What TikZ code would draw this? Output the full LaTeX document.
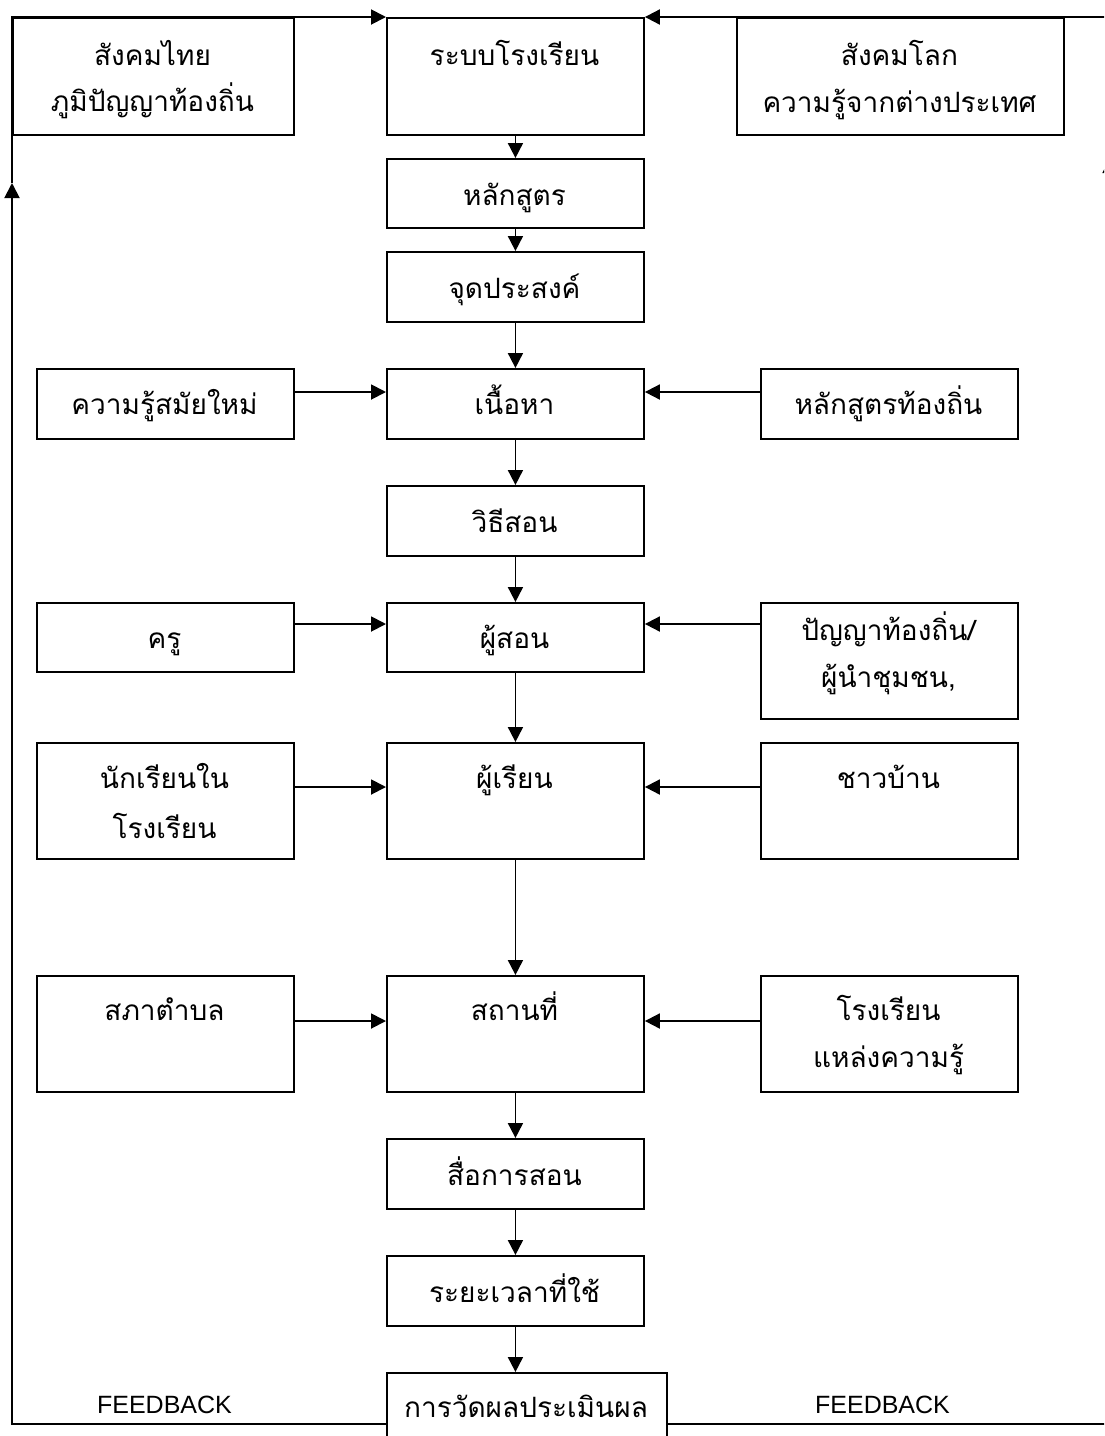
\documentclass[tikz,border=0pt]{standalone}
\usepackage{fontspec}
\setmainfont{Liberation Sans}
\newfontfamily\thaifont[Script=Thai]{Loma}
\usetikzlibrary{arrows.meta,calc}
\begin{document}
\begin{tikzpicture}[x=1pt,y=-1pt,
  box/.style={draw, line width=1.9pt, rectangle, inner sep=0pt, anchor=north west},
  lbl/.style={anchor=base, inner sep=0pt, font=\thaifont\fontsize{28}{34}\selectfont},
  fbk/.style={anchor=base, inner sep=0pt, font=\fontsize{25}{30}\selectfont},
  arr/.style={line width=1.9pt, -{Triangle[length=15pt,width=15pt]}}]
\clip (0,0) rectangle (1104,1436);
% top row
\node[box, minimum width=281pt, minimum height=117pt] (thai) at (12,17) {};
\node[box, minimum width=257pt, minimum height=117pt] (sch) at (386,17) {};
\node[box, minimum width=327pt, minimum height=117pt] (world) at (736,17) {};
\node[lbl] (thaiA) at (152.5,65) {สังคมไทย};
\node[lbl] (thaiB) at (152.5,111) {ภูมิปัญญาท้องถิ่น};
\node[lbl] (schA) at (514.5,65) {ระบบโรงเรียน};
\node[lbl] (worldA) at (899.5,65) {สังคมโลก};
\node[lbl] (worldB) at (899.5,112) {ความรู้จากต่างประเทศ};
% centre column
\node[box, minimum width=257pt, minimum height=69pt] (cur) at (386,158) {};
\node[lbl] (curA) at (514.5,205) {หลักสูตร};
\node[box, minimum width=257pt, minimum height=70pt] (obj) at (386,251) {};
\node[lbl] (objA) at (514.5,298) {จุดประสงค์};
\node[box, minimum width=257pt, minimum height=70pt] (cont) at (386,368) {};
\node[lbl] (contA) at (514.5,414) {เนื้อหา};
\node[box, minimum width=257pt, minimum height=70pt] (meth) at (386,485) {};
\node[lbl] (methA) at (514.5,532) {วิธีสอน};
\node[box, minimum width=257pt, minimum height=69pt] (tch) at (386,602) {};
\node[lbl] (tchA) at (514.5,648) {ผู้สอน};
\node[box, minimum width=257pt, minimum height=116pt] (lrn) at (386,742) {};
\node[lbl] (lrnA) at (514.5,788) {ผู้เรียน};
\node[box, minimum width=257pt, minimum height=116pt] (plc) at (386,975) {};
\node[lbl] (plcA) at (514.5,1020) {สถานที่};
\node[box, minimum width=257pt, minimum height=70pt] (med) at (386,1138) {};
\node[lbl] (medA) at (514.5,1185) {สื่อการสอน};
\node[box, minimum width=257pt, minimum height=70pt] (time) at (386,1255) {};
\node[lbl] (timeA) at (514.5,1302) {ระยะเวลาที่ใช้};
\node[box, minimum width=280pt, minimum height=100pt] (eval) at (386,1372) {};
\node[lbl] (evalA) at (526,1417) {การวัดผลประเมินผล};
% side boxes
\node[box, minimum width=257pt, minimum height=70pt] (mod) at (36,368) {};
\node[lbl] (modA) at (164.5,414) {ความรู้สมัยใหม่};
\node[box, minimum width=257pt, minimum height=70pt] (loc) at (760,368) {};
\node[lbl] (locA) at (888.5,414) {หลักสูตรท้องถิ่น};
\node[box, minimum width=257pt, minimum height=69pt] (kru) at (36,602) {};
\node[lbl] (kruA) at (164.5,648) {ครู};
\node[box, minimum width=257pt, minimum height=116pt] (wis) at (760,602) {};
\node[lbl] (wisA) at (888.5,640) {ปัญญาท้องถิ่น/};
\node[lbl] (wisB) at (888.5,687) {ผู้นำชุมชน,};
\node[box, minimum width=257pt, minimum height=116pt] (stu) at (36,742) {};
\node[lbl] (stuA) at (164.5,788) {นักเรียนใน};
\node[lbl] (stuB) at (164.5,838) {โรงเรียน};
\node[box, minimum width=257pt, minimum height=116pt] (vil) at (760,742) {};
\node[lbl] (vilA) at (888.5,788) {ชาวบ้าน};
\node[box, minimum width=257pt, minimum height=116pt] (tao) at (36,975) {};
\node[lbl] (taoA) at (164.5,1020) {สภาตำบล};
\node[box, minimum width=257pt, minimum height=116pt] (src) at (760,975) {};
\node[lbl] (srcA) at (888.5,1020) {โรงเรียน};
\node[lbl] (srcB) at (888.5,1067) {แหล่งความรู้};
% vertical arrows
\draw[arr] (sch.south) -- (cur.north);
\draw[arr] (cur.south) -- (obj.north);
\draw[arr] (obj.south) -- (cont.north);
\draw[arr] (cont.south) -- (meth.north);
\draw[arr] (meth.south) -- (tch.north);
\draw[arr] (tch.south) -- (lrn.north);
\draw[arr] (lrn.south) -- (plc.north);
\draw[arr] (plc.south) -- (med.north);
\draw[arr] (med.south) -- (time.north);
\draw[arr] (time.south) -- (eval.north -| time.south);
% horizontal arrows
\coordinate (r1) at (0,392);
\coordinate (r2) at (0,624);
\coordinate (r3) at (0,787);
\coordinate (r4) at (0,1021);
\draw[arr] (mod.east |- r1) -- (cont.west |- r1);
\draw[arr] (loc.west |- r1) -- (cont.east |- r1);
\draw[arr] (kru.east |- r2) -- (tch.west |- r2);
\draw[arr] (wis.west |- r2) -- (tch.east |- r2);
\draw[arr] (stu.east |- r3) -- (lrn.west |- r3);
\draw[arr] (vil.west |- r3) -- (lrn.east |- r3);
\draw[arr] (tao.east |- r4) -- (plc.west |- r4);
\draw[arr] (src.west |- r4) -- (plc.east |- r4);
% feedback loops
\coordinate (bl) at (12,1424);
\coordinate (ml) at (12,183);
\coordinate (tl) at (12,17);
\coordinate (br) at (1110,1424);
\coordinate (mr) at (1110,158);
\coordinate (tr) at (1110,17);
\draw[arr] (eval.west |- bl) -- (bl) -- (ml);
\draw[arr] (ml) -- (tl) -- (sch.north west);
\draw[arr] (eval.east |- br) -- (br) -- (mr);
\draw[arr] (mr) -- (tr) -- (sch.north east);
\node[fbk] (fbL) at (164.5,1413) {FEEDBACK};
\node[fbk] (fbR) at (882.5,1413) {FEEDBACK};
\end{tikzpicture}
\end{document}
